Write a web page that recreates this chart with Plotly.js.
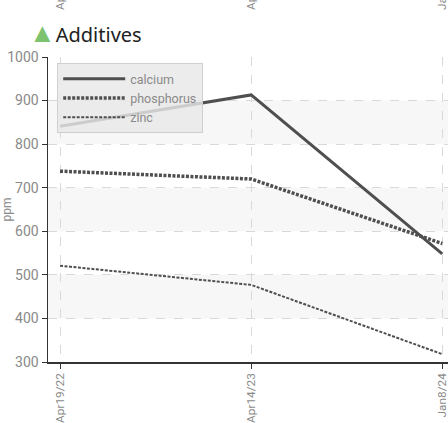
<!DOCTYPE html>
<html>
<head>
<meta charset="utf-8">
<script src="https://cdn.plot.ly/plotly-3.0.1.min.js"></script>
<style>html,body{margin:0;padding:0;background:#fff}#chart{width:448px;height:423px}</style>
</head>
<body>
<div id="chart"></div>
<script>
const dates = ["Apr19/22", "Apr14/23", "Jan8/24"];
const calcium = [841, 913, 548];
const phosphorus = [738, 720, 572];
const zinc = [521, 477, 318];
const yTicks = [300, 400, 500, 600, 700, 800, 900, 1000];

const lineColor = "#4f4f4f";
const tickFont = {family: "Roboto, sans-serif", size: 11.8, color: "#8a8a8a"};

const traces = [
  {x: dates, y: calcium, name: "calcium", type: "scatter", mode: "lines",
   line: {color: lineColor, width: 3}},
  {x: dates, y: phosphorus, name: "phosphorus", type: "scatter", mode: "lines",
   line: {color: lineColor, width: 3.5, dash: "3px,1.5px"}},
  {x: dates, y: zinc, name: "zinc", type: "scatter", mode: "lines",
   line: {color: lineColor, width: 2, dash: "3px,1.5px"}},
  {x: dates, y: calcium, xaxis: "x2", type: "scatter", mode: "lines",
   line: {width: 0}, opacity: 0, showlegend: false, hoverinfo: "skip"}
];

const bands = [[800, 900], [600, 700], [400, 500]];
const shapes = bands.map(b => ({
  type: "rect", xref: "paper", yref: "y", x0: 0, x1: 1, y0: b[0], y1: b[1],
  fillcolor: "#f7f7f7", line: {width: 0}, layer: "below"
}));

const layout = {
  width: 448, height: 423,
  margin: {l: 48, r: 0, t: 57, b: 61},
  paper_bgcolor: "#fff", plot_bgcolor: "rgba(0,0,0,0)",
  font: {family: "Roboto, sans-serif", color: "#8a8a8a"},
  title: {
    text: '<span style="color:#7dc36f;font-size:27px">▲</span>Additives',
    x: 29/448, xanchor: "left", xref: "container",
    y: 1 - 35/423, yanchor: "middle", yref: "container",
    font: {family: "Noto Sans, sans-serif", size: 20, color: "#222"}
  },
  xaxis: {
    type: "category", categoryarray: dates, range: [-0.063, 2.03],
    showline: true, linecolor: "#333", linewidth: 1.5,
    ticks: "outside", ticklen: 5, tickcolor: "#333",
    tickangle: -90, tickfont: tickFont, ticklabelstandoff: 0,
    showgrid: true, gridcolor: "#d9d9d9", griddash: "dash", gridwidth: 1,
    zeroline: false, fixedrange: true
  },
  xaxis2: {
    type: "category", categoryarray: dates, range: [-0.063, 2.03],
    overlaying: "x", side: "top", showgrid: false, showline: false,
    ticks: "", tickangle: -90, tickfont: tickFont, ticklabelstandoff: 46,
    zeroline: false
  },
  yaxis: {
    range: [300, 1000], tickvals: yTicks,
    showline: true, linecolor: "#333", linewidth: 1.5,
    ticks: "outside", ticklen: 5, tickcolor: "#333",
    tickfont: {family: "Roboto, sans-serif", size: 14, color: "#8a8a8a"},
    showgrid: true, gridcolor: "#d9d9d9", griddash: "dash", gridwidth: 1,
    zeroline: false,
    title: {text: "ppm", font: {family: "Roboto, sans-serif", size: 12, color: "#8a8a8a"}, standoff: 4}
  },
  legend: {
    x: 0.023, y: 0.98, xanchor: "left", yanchor: "top",
    bgcolor: "rgba(232,232,232,0.82)", bordercolor: "#cfcfcf", borderwidth: 1,
    font: {family: "Roboto, sans-serif", size: 12.5, color: "#8a8a8a"},
    itemwidth: 62, tracegroupgap: 0
  },
  shapes: shapes,
  showlegend: true
};

Plotly.newPlot("chart", traces, layout, {displayModeBar: false, staticPlot: true});
</script>
</body>
</html>
